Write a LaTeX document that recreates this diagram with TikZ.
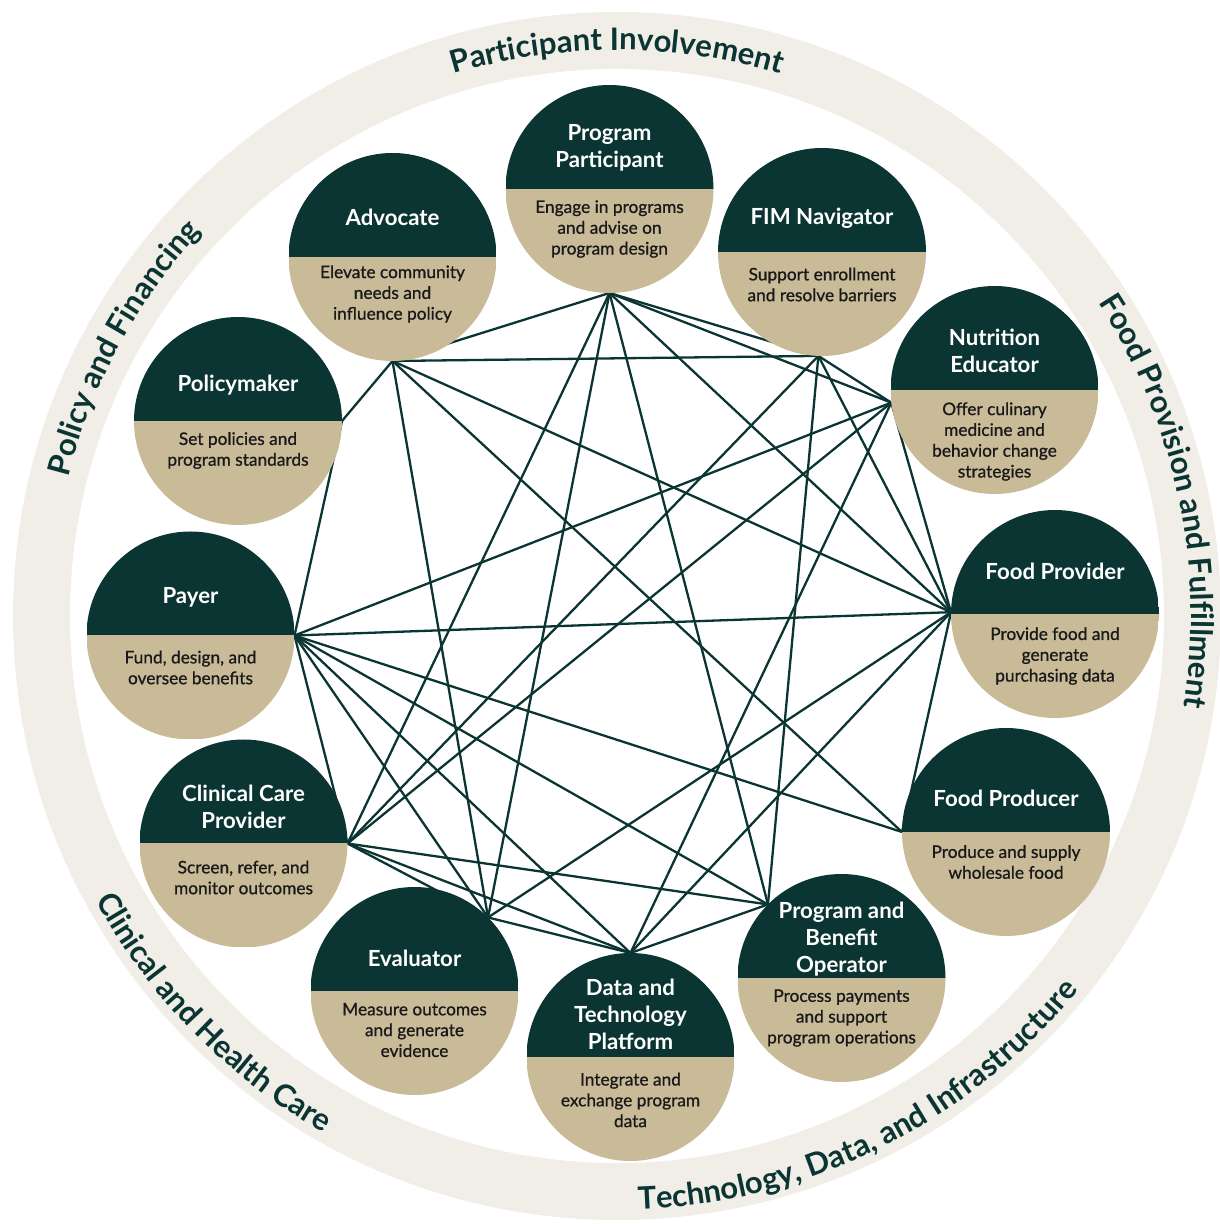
\documentclass[tikz,border=0pt]{standalone}
\usepackage{fontspec}
\setmainfont{Lato}
\newfontfamily\descfont{Lato}[FakeBold=0.8]
\usetikzlibrary{decorations.text}
\definecolor{darkc}{RGB}{11,53,51}
\definecolor{tanc}{RGB}{201,186,152}
\definecolor{ringc}{RGB}{241,238,231}
\definecolor{descc}{RGB}{25,25,25}
\pgfdeclarelayer{bg}
\pgfsetlayers{bg,main}
\newcommand{\ringfont}{\fontsize{31}{31}\selectfont\bfseries}
\newcommand{\actor}[7]{%
  \node[actorc] (#1) at (#2,#3) {};
  \node[ttl] (#1-t) at (#2,#4) {#5};
  \node[dsc] (#1-d) at (#2,#6) {#7};
}
\begin{document}
\begin{tikzpicture}[x=1pt,y=1pt,
  edge/.style={draw=darkc, line width=2.3pt},
  ttl/.style={text=white, font=\fontsize{22.2}{27}\selectfont\bfseries, align=center, inner sep=0pt},
  dsc/.style={text=descc, font=\descfont\fontsize{17.3}{20.8}\selectfont, align=center, inner sep=0pt},
  actorc/.style={circle, minimum size=208pt, inner sep=0pt, outer sep=0pt,
    path picture={
      \fill[darkc] (path picture bounding box.north west) rectangle (path picture bounding box.east);
      \fill[tanc] (path picture bounding box.west) rectangle (path picture bounding box.south east);
    }},
  ringtext/.style={decorate, decoration={text along path, text align=center, text color=darkc}}
]
\useasboundingbox (0,0) rectangle (1220,1224);
\begin{pgfonlayer}{bg}
\fill[ringc, even odd rule] (617,608) circle[radius=604] (617,608) circle[radius=547];
\end{pgfonlayer}

% ring labels
\begin{scope}[shift={(617,608)}]
\path[ringtext, decoration={text={|\ringfont|Participant Involvement}}] (125:566) arc[start angle=125, end angle=55, radius=566];
\path[ringtext, decoration={text={|\ringfont|Food Provision and Fulfillment}}] (52:574) arc[start angle=52, end angle=-28, radius=574];
\path[ringtext, decoration={text={|\ringfont|Policy and Financing}}] (185:566) arc[start angle=185, end angle=118, radius=566];
\path[ringtext, decoration={text={|\ringfont|Technology, Data, and Infrastructure}}] (-100:594) arc[start angle=-100, end angle=-27, radius=594];
\path[ringtext, decoration={text={|\ringfont|Clinical and Health Care}}] (194:594) arc[start angle=194, end angle=255, radius=594];
\end{scope}

% actors
\actor{pp}{609.5}{1035}{1076}{Program\\Participant}{995}{Engage in programs\\and advise on\\program design}
\actor{ad}{392.5}{967}{1007}{Advocate}{930}{Elevate community\\needs and\\influence policy}
\actor{fim}{822}{972}{1006}{FIM Navigator}{939.5}{Support enrollment\\and resolve barriers}
\actor{pol}{238}{803}{839}{Policymaker}{773.5}{Set policies and\\program standards}
\actor{ne}{994.5}{834}{873}{Nutrition\\Educator}{782.5}{Offer culinary\\medicine and\\behavior change\\strategies}
\actor{fp}{1055}{610}{653}{Food Provider}{568}{Provide food and\\generate\\purchasing data}
\actor{pay}{190.5}{588.5}{627}{Payer}{556.5}{Fund, design, and\\oversee benefits}
\actor{ccp}{243.5}{380.5}{417}{Clinical Care\\Provider}{346.5}{Screen, refer, and\\monitor outcomes}
\actor{fpr}{1006}{392}{426}{Food Producer}{362}{Produce and supply\\wholesale food}
\actor{pbo}{841.5}{246}{285}{Program and\\Benefit\\Operator}{206}{Process payments\\and support\\program operations}
\actor{ev}{414.5}{233}{266}{Evaluator}{194}{Measure outcomes\\and generate\\evidence}
\actor{dtp}{630.5}{167}{210}{Data and\\Technology\\Platform}{124}{Integrate and\\exchange program\\data}

% connection points
\coordinate (pp-a) at (pp.-90);
\coordinate (ad-a) at (ad.-90);
\coordinate (fim-a) at (fim.-92);
\coordinate (ne-a) at (ne.187);
\coordinate (fp-a) at (fp.179);
\coordinate (fpr-a) at (fpr.180);
\coordinate (pbo-a) at (pbo.135);
\coordinate (dtp-a) at (dtp.90);
\coordinate (ev-a) at (ev.45);
\coordinate (ccp-a) at (ccp.0);
\coordinate (pay-a) at (pay.0);
\coordinate (pol-a) at (pol.0);

\begin{pgfonlayer}{bg}
\foreach \a/\b in {pp/ad, pp/fim, pp/ne, pp/ccp, pp/ev, pp/pbo, pp/fp,
  ad/pol, ad/fim, ad/ev, ad/fpr, ad/fp,
  fim/ne, fim/ccp, fim/pbo, fim/fp,
  ne/pay, ne/ccp, ne/fp, ne/dtp,
  fp/pay, fp/ev, fp/dtp, fp/fpr,
  fpr/pay, pbo/pay, pbo/ccp, pbo/dtp,
  dtp/pay, dtp/ccp, dtp/ev, ev/pay, ev/ccp, ccp/pay, pay/pol}
  \draw[edge] (\a-a) -- (\b-a);
\end{pgfonlayer}
\end{tikzpicture}
\end{document}
